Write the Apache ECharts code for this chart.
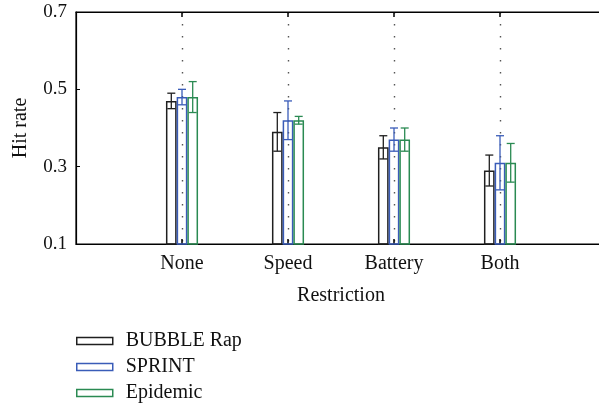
<!DOCTYPE html>
<html>
<head>
<meta charset="utf-8">
<script src="https://cdn.jsdelivr.net/npm/echarts@6/dist/echarts.min.js"></script>
<style>html,body{margin:0;padding:0;background:#fff;overflow:hidden;width:599px;height:410px;}#c{width:606px;height:410px;}</style>
</head>
<body>
<div id="c"></div>
<script>
const categories = ['None', 'Speed', 'Battery', 'Both'];
const seriesNames = ['BUBBLE Rap', 'SPRINT', 'Epidemic'];
const bubbleRap = [0.47, 0.39, 0.35, 0.29];
const bubbleRapErr = [0.02, 0.05, 0.03, 0.04];
const sprint = [0.48, 0.42, 0.37, 0.31];
const sprintErr = [0.02, 0.05, 0.03, 0.07];
const epidemic = [0.48, 0.42, 0.37, 0.31];
const epidemicErr = [0.04, 0.01, 0.03, 0.05];
const yTickLabels = [0.1, 0.3, 0.5, 0.7];

const colors = ['#1f1f1f', '#3a5cb8', '#2a8a52'];
const FONT = 'Liberation Serif';
const BAR_W = 10.7;

// pad categories so that the axis spans one empty slot on each side
const axisCats = [''].concat(categories, ['']);
const pad = arr => [null].concat(arr, [null]);
const values = [bubbleRap, sprint, epidemic];
const errors = [bubbleRapErr, sprintErr, epidemicErr];
const inner = idx => idx > 0 && idx < axisCats.length - 1;

const series = [];
values.forEach((v, i) => {
  series.push({
    name: seriesNames[i],
    type: 'bar',
    data: pad(v),
    barWidth: BAR_W,
    barGap: '0%',
    itemStyle: { color: 'rgba(0,0,0,0)', borderColor: colors[i], borderWidth: 1.5 },
    emphasis: { disabled: true },
    silent: true,
    z: 3
  });
});
values.forEach((v, i) => {
  const data = [];
  v.forEach((val, k) => data.push([k + 1, val, errors[i][k]]));
  series.push({
    name: seriesNames[i] + ' err',
    type: 'custom',
    data: data,
    z: 4,
    silent: true,
    renderItem: function (params, api) {
      const x = api.value(0), y = api.value(1), e = api.value(2);
      const off = (i - 1) * BAR_W;
      const hi = api.coord([x, y + e]);
      const lo = api.coord([x, y - e]);
      const cx = hi[0] + off;
      const cap = 4;
      const st = { stroke: colors[i], lineWidth: 1.3, fill: null };
      return {
        type: 'group',
        children: [
          { type: 'line', shape: { x1: cx, y1: hi[1], x2: cx, y2: lo[1] }, style: st },
          { type: 'line', shape: { x1: cx - cap, y1: hi[1], x2: cx + cap, y2: hi[1] }, style: st },
          { type: 'line', shape: { x1: cx - cap, y1: lo[1], x2: cx + cap, y2: lo[1] }, style: st }
        ]
      };
    }
  });
});

const chart = echarts.init(document.getElementById('c'), null, { renderer: 'canvas' });
chart.setOption({
  animation: false,
  backgroundColor: '#fff',
  textStyle: { fontFamily: FONT },
  grid: { left: 76, right: 0, top: 12, bottom: 166, show: true, borderColor: '#000', borderWidth: 1.2, backgroundColor: 'transparent' },
  legend: {
    orient: 'vertical',
    left: 76,
    top: 331,
    padding: 0,
    itemWidth: 36,
    itemHeight: 7,
    itemGap: 6,
    icon: 'rect',
    selectedMode: false,
    textStyle: { fontFamily: FONT, fontSize: 20, color: '#111', lineHeight: 20, padding: [0, 0, 0, 8] },
    data: seriesNames.map((n, i) => ({
      name: n,
      itemStyle: { color: '#fff', borderColor: colors[i], borderWidth: 1.5 }
    }))
  },
  xAxis: [{
    type: 'category',
    data: axisCats,
    boundaryGap: false,
    name: 'Restriction',
    nameLocation: 'middle',
    nameGap: 42,
    nameTextStyle: { fontFamily: FONT, fontSize: 20, color: '#111', verticalAlign: 'top' },
    axisLine: { lineStyle: { color: '#000', width: 1.2 } },
    axisTick: { show: true, inside: true, length: 5, lineStyle: { color: '#000', width: 1.5 }, interval: inner },
    axisLabel: { fontFamily: FONT, fontSize: 20, color: '#111', margin: 10, interval: inner },
    splitLine: { show: true, lineStyle: { color: '#555', width: 1.4, type: [1.4, 10.6] }, interval: inner }
  }, {
    type: 'category',
    position: 'top',
    data: axisCats,
    boundaryGap: false,
    axisLine: { show: true, lineStyle: { color: '#000', width: 1.2 } },
    axisTick: { show: true, inside: true, length: 5, lineStyle: { color: '#000', width: 1.5 }, interval: inner },
    axisLabel: { show: false },
    splitLine: { show: false }
  }],
  yAxis: {
    type: 'value',
    min: 0.1,
    max: 0.7,
    name: 'Hit rate',
    nameLocation: 'middle',
    nameGap: 45,
    nameTextStyle: { fontFamily: FONT, fontSize: 20, color: '#111' },
    axisLine: { show: true, lineStyle: { color: '#000', width: 1.2 } },
    axisTick: { show: true, inside: true, length: 4, lineStyle: { color: '#000' }, customValues: yTickLabels },
    axisLabel: { fontFamily: FONT, fontSize: 19, color: '#111', margin: 9, customValues: yTickLabels,
      formatter: v => v.toFixed(1) },
    splitLine: { show: false }
  },
  series: series
});
</script>
</body>
</html>
